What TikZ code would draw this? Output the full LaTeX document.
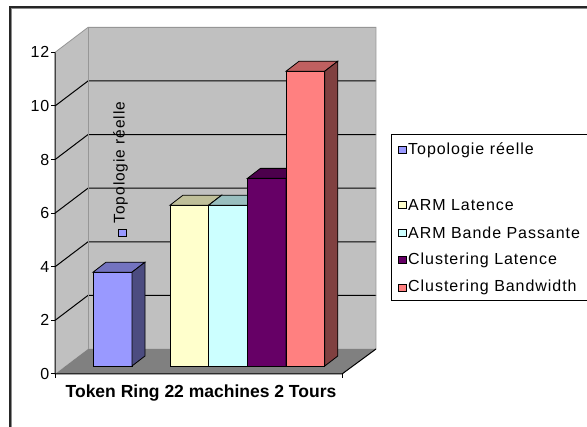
\documentclass[tikz,border=0pt]{standalone}
\usepackage{fontspec}
\setmainfont{Liberation Sans}
\newfontfamily\spacedfont[LetterSpace=6]{Liberation Sans}
\definecolor{wallc}{HTML}{C0C0C0}
\definecolor{floorc}{HTML}{808080}
\definecolor{edgec}{HTML}{969696}
\definecolor{blueF}{HTML}{9999FF}\definecolor{blueT}{HTML}{7373BF}\definecolor{blueS}{HTML}{4C4C80}
\definecolor{yelF}{HTML}{FFFFCC}\definecolor{yelT}{HTML}{BFBF99}\definecolor{yelS}{HTML}{808066}
\definecolor{cyaF}{HTML}{CCFFFF}\definecolor{cyaT}{HTML}{99BFBF}\definecolor{cyaS}{HTML}{668080}
\definecolor{purF}{HTML}{660066}\definecolor{purT}{HTML}{4C004C}\definecolor{purS}{HTML}{330033}
\definecolor{salF}{HTML}{FF8080}\definecolor{salT}{HTML}{BF6060}\definecolor{salS}{HTML}{804040}
% one 3D bar: left x, right x, value, front/top/side colours
\newcommand\chartbar[6]{%
  \pgfmathsetmacro\ytop{366-26.8*#3}%
  \pgfmathsetmacro\ytopb{\ytop-10}%
  \pgfmathsetmacro\xla{#1+13}%
  \pgfmathsetmacro\xra{#2+13}%
  \filldraw[barline,fill=#4] (#1,366) rectangle (#2,\ytop);
  \filldraw[barline,fill=#5] (#1,\ytop) -- (#2,\ytop) -- (\xra,\ytopb) -- (\xla,\ytopb) -- cycle;
  \filldraw[barline,fill=#6] (#2,366) -- (#2,\ytop) -- (\xra,\ytopb) -- (\xra,356) -- cycle;
}
\begin{document}
\begin{tikzpicture}[x=1pt,y=-1pt,
  barline/.style={draw=black,line width=0.8pt,line join=miter},
  gridline/.style={black,line width=1pt},
  softedge/.style={edgec,line width=0.8pt},
  axisline/.style={black,line width=1pt},
  ticklbl/.style={font=\spacedfont\fontsize{16}{18}\selectfont,inner sep=0pt,anchor=east},
  legtext/.style={font=\spacedfont\fontsize{16}{18}\selectfont,inner sep=0pt,anchor=west},
  legkey/.style={draw=black,line width=0.8pt,minimum width=8pt,minimum height=7pt,inner sep=0pt}]
\useasboundingbox (0,0) rectangle (587,427);
\fill[white] (0,0) rectangle (587,427);

% chart area frame
\draw[line width=2.2pt,black!45] (11,427) |- (587,8);
\draw[line width=1.2pt,black!85] (10,427) |- (587,7);

% walls and floor
\fill[wallc] (88,27.4) rectangle (376,349);
\fill[wallc] (55,52.4) -- (88,27.4) -- (88,349) -- (55,374) -- cycle;
\fill[floorc] (55,374) -- (342,374) -- (376,349) -- (88,349) -- cycle;

% grid lines
\foreach \v in {2,4,...,10}
  \draw[gridline] (55,{374-26.8*\v}) -- (88,{349-26.8*\v}) -- (376,{349-26.8*\v});
\draw[softedge] (55,52.4) -- (88,27.4) -- (376,27.4) -- (376,349);
\draw[softedge] (88,27.4) -- (88,349);

% axes and ticks
\draw[axisline] (55,52.4) -- (55,374) -- (342,374) -- (376,349);
\draw[axisline] (342,374) -- (342,378);
\draw[axisline] (55,374) -- (55,378);
\foreach \v in {0,2,...,12}
  \draw[axisline] (51,{374-26.8*\v}) -- (55,{374-26.8*\v});

% value labels
\foreach \v in {0,2,...,12}
  \node[ticklbl] (ylab\v) at (49.5,{374-26.8*\v}) {\v};

% bars
\chartbar{93}{132}{3.5}{blueF}{blueT}{blueS}
\chartbar{170}{208.7}{6}{yelF}{yelT}{yelS}
\chartbar{208.7}{247.4}{6}{cyaF}{cyaT}{cyaS}
\chartbar{247.4}{286.1}{7}{purF}{purT}{purS}
\chartbar{286.1}{324.8}{11}{salF}{salT}{salS}

% data label of the first series
\node[font=\spacedfont\fontsize{15.5}{17}\selectfont,inner sep=0pt,rotate=90] (toplbl) at (120.5,162.5) {Topologie réelle};
\node[legkey,fill=blueF] (topkey) at (122.5,233) {};

% category title
\node[font=\bfseries\fontsize{17.5}{20}\selectfont,inner sep=0pt] (cat) at (201,393) {Token Ring 22 machines 2 Tours};

% legend
\draw[line width=0.8pt,black] (587,134) -- (391,134) -- (391,300) -- (587,300);
\node[legkey,fill=blueF] (k1) at (402,150) {};
\node[legtext] (t1) at (408,150) {Topologie réelle};
\node[legkey,fill=yelF] (k2) at (402,205) {};
\node[legtext] (t2) at (408,205) {ARM Latence};
\node[legkey,fill=cyaF] (k3) at (402,232.5) {};
\node[legtext] (t3) at (408,232.5) {ARM Bande Passante};
\node[legkey,fill=purF] (k4) at (402,260) {};
\node[legtext] (t4) at (408,260) {Clustering Latence};
\node[legkey,fill=salF] (k5) at (402,287.5) {};
\node[legtext] (t5) at (408,287.5) {Clustering Bandwidth};
\end{tikzpicture}
\end{document}
